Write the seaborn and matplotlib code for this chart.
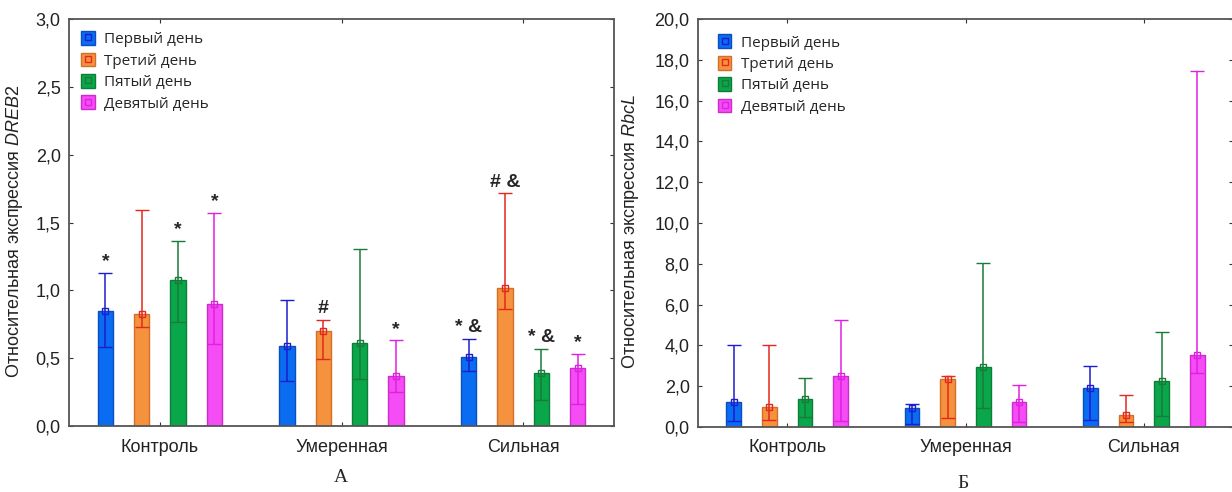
import numpy as np
import pandas as pd
import seaborn as sns
import matplotlib
matplotlib.use("Agg")
from matplotlib import pyplot as plt
from matplotlib.patches import Patch
from matplotlib.lines import Line2D
from matplotlib.ticker import FuncFormatter

groups = ["Контроль", "Умеренная", "Сильная"]
days = ["Первый день", "Третий день", "Пятый день", "Девятый день"]

# DREB2: mean, lower whisker, upper whisker  (rows = days, cols = groups)
dreb_mean = [[0.845, 0.586, 0.512],
             [0.828, 0.700, 1.017],
             [1.074, 0.611, 0.387],
             [0.897, 0.372, 0.424]]
dreb_low = [[0.581, 0.335, 0.409],
            [0.729, 0.493, 0.865],
            [0.766, 0.347, 0.192],
            [0.603, 0.251, 0.160]]
dreb_high = [[1.128, 0.926, 0.640],
             [1.591, 0.783, 1.714],
             [1.362, 1.303, 0.567],
             [1.571, 0.631, 0.532]]
dreb_marks = [["*", "", "* &"],
              ["", "#", "# &"],
              ["*", "", "* &"],
              ["*", "*", "*"]]

# RbcL
rbcl_mean = [[1.23, 0.94, 1.90],
             [1.00, 2.36, 0.59],
             [1.36, 2.96, 2.27],
             [2.50, 1.23, 3.55]]
rbcl_low = [[0.30, 0.15, 0.34],
            [0.34, 0.44, 0.26],
            [0.51, 0.92, 0.54],
            [0.30, 0.25, 2.64]]
rbcl_high = [[4.02, 1.13, 2.99],
             [4.02, 2.50, 1.59],
             [2.40, 8.03, 4.65],
             [5.24, 2.04, 17.45]]

bar_colors = ["#0a6cf0", "#f5923e", "#0aa64a", "#f54cf5"]
edge_colors = ["#0a4fc0", "#d2702a", "#0b7f38", "#cc2ccc"]
err_colors = ["#1c1cd0", "#e4281e", "#1a7a3a", "#e020e0"]

sns.set_style("ticks")
plt.rcParams["font.family"] = ["Liberation Sans", "DejaVu Sans"]
plt.rcParams["mathtext.fontset"] = "custom"
plt.rcParams["mathtext.it"] = "Liberation Sans:italic"
plt.rcParams["mathtext.rm"] = "Liberation Sans"


def comma_fmt(v, pos):
    return f"{v:.1f}".replace(".", ",")


def panel(ax, mean, low, high, ymax, ystep, gene, label_x, marks=None,
          leg_xy=(0, 1)):
    df = pd.DataFrame({
        "group": np.tile(groups, len(days)),
        "day": np.repeat(days, len(groups)),
        "value": np.ravel(mean),
    })
    sns.barplot(data=df, x="group", y="value", hue="day", order=groups,
                hue_order=days, palette=bar_colors, width=0.8, gap=0.58,
                errorbar=None, legend=False, saturation=1, linewidth=1,
                ax=ax)
    bar_sets = list(ax.containers)
    for i, cont in enumerate(bar_sets):
        for j, bar in enumerate(cont.patches):
            bar.set_edgecolor(edge_colors[i])
            x = bar.get_x() + bar.get_width() / 2
            m = mean[i][j]
            ax.errorbar([x], [m], yerr=[[m - low[i][j]], [high[i][j] - m]],
                        fmt="s", color=err_colors[i], mfc="none",
                        mec=err_colors[i], ms=5, mew=1, elinewidth=1.1,
                        capsize=5.3, capthick=1.1, zorder=4)
            if marks and marks[i][j]:
                ax.annotate(marks[i][j], (x, high[i][j]), xytext=(0, 2),
                            textcoords="offset points", ha="center",
                            va="bottom", fontsize=14, fontweight="bold")
    ax.set_xlim(-0.5, 2.5)
    ax.set_ylim(0, ymax)
    ax.set_yticks(np.arange(0, ymax + ystep / 2, ystep))
    ax.yaxis.set_major_formatter(FuncFormatter(comma_fmt))
    ax.set_xlabel("")
    ax.set_ylabel(f"Относительная экспрессия $\\it{{{gene}}}$", fontsize=13,
                  color="#222222")
    ax.yaxis.set_label_coords(label_x, 0.48)
    ax.tick_params(direction="in", top=True, right=True, length=3,
                   labelsize=13, colors="#333333", labelcolor="#222222")
    ax.tick_params(axis="x", pad=9)
    ax.tick_params(axis="y", pad=6)
    for s in ax.spines.values():
        s.set_color("#555555")
        s.set_linewidth(1.3)
    handles = [(Patch(facecolor=bar_colors[i], edgecolor=edge_colors[i]),
                Line2D([], [], marker="s", ls="", mfc="none",
                       mec=err_colors[i], ms=5))
               for i in range(len(days))]
    ax.legend(handles, days, loc="upper left", frameon=False,
              prop={"family": "Open Sans", "size": 11}, handlelength=0.9,
              handleheight=1.0, handletextpad=0.6, labelspacing=0.35,
              borderaxespad=0.4, bbox_to_anchor=leg_xy)


fig = plt.figure(figsize=(12.32, 4.92), dpi=100)
ax1 = fig.add_axes([69 / 1232, 66 / 492, 545 / 1232, 407 / 492])
ax2 = fig.add_axes([698 / 1232, 65 / 492, 535 / 1232, 408 / 492])

panel(ax1, dreb_mean, dreb_low, dreb_high, 3.0, 0.5, "DREB2", -0.08,
      dreb_marks)
panel(ax2, rbcl_mean, rbcl_low, rbcl_high, 20.0, 2.0, "RbcL", -0.106,
      leg_xy=(0.014, 0.992))

fig.text(341 / 1232, 1 - 478 / 492, "А", ha="center", va="center",
         fontsize=14, family="Liberation Serif")
fig.text(963 / 1232, 1 - 484 / 492, "Б", ha="center", va="center",
         fontsize=14, family="Liberation Serif")

fig.savefig("out.png", dpi=100, facecolor="white")
